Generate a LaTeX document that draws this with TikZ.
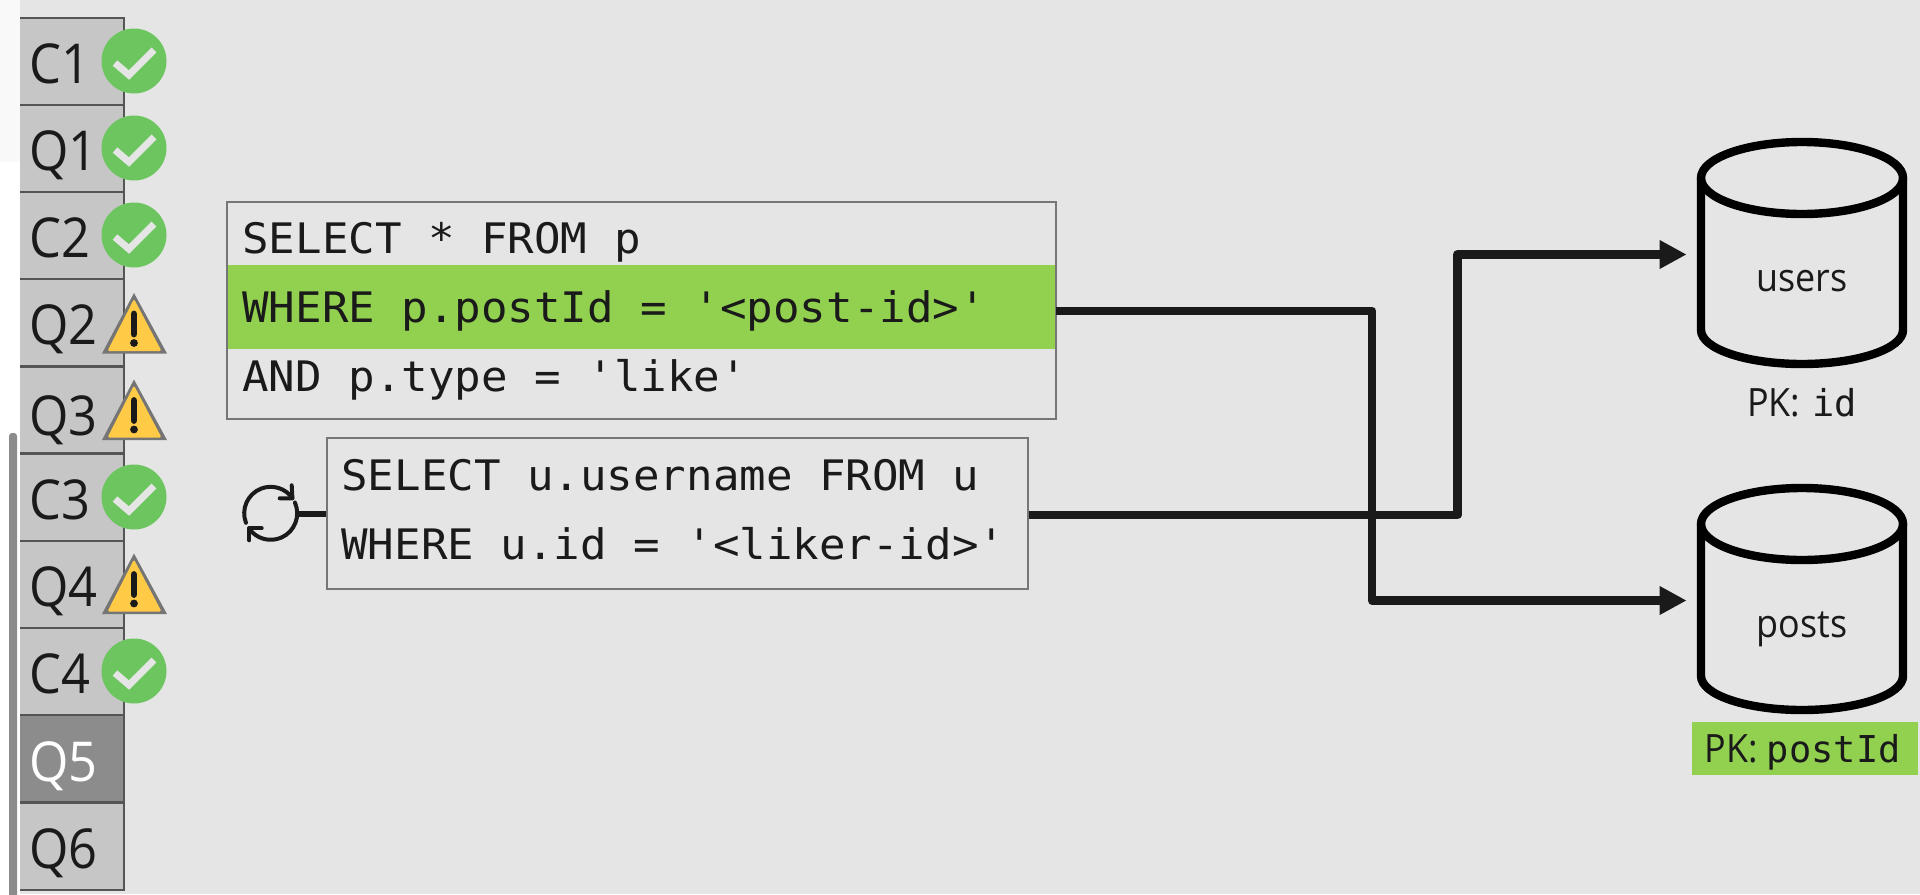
\documentclass[tikz,border=0pt]{standalone}
\usepackage{fontspec}
\usetikzlibrary{arrows.meta,calc}
\newfontfamily\uifont[FakeStretch=0.92]{Open Sans}
\newfontfamily\codefont[FakeStretch=1.05]{DejaVu Sans Mono}
\newfontfamily\pkfont{DejaVu Sans Mono}
\definecolor{bgc}{HTML}{E5E5E5}
\definecolor{txt}{HTML}{1A1A1A}
\definecolor{hl}{HTML}{92D050}
\definecolor{okc}{HTML}{6CC55E}
\definecolor{warnc}{HTML}{FFCA45}
\definecolor{warnb}{HTML}{757575}
\definecolor{rowc}{HTML}{C6C6C6}
\definecolor{rowb}{HTML}{555555}
\definecolor{rowdark}{HTML}{8C8C8C}
\definecolor{boxb}{HTML}{767676}
\tikzset{
  x=0.5pt,y=-0.5pt,
  rowbox/.style={draw=rowb,line width=1.2pt,fill=rowc,inner sep=0pt,minimum width=104.9*0.5pt,minimum height=87*0.5pt,anchor=north west},
  rowdk/.style={rowbox,fill=rowdark},
  rowlab/.style={inner sep=0pt,anchor=base west,text=txt,font=\uifont\fontsize{27.5pt}{30pt}\selectfont},
  sqlbox/.style={draw=boxb,line width=1pt,inner sep=0pt,anchor=north west},
  hlband/.style={fill=hl,inner sep=0pt,anchor=north west},
  code/.style={inner sep=0pt,anchor=base west,text=txt,font=\codefont\fontsize{21pt}{24pt}\selectfont},
  dbtext/.style={inner sep=0pt,anchor=base,text=txt,font=\uifont\fontsize{19.5pt}{22pt}\selectfont},
  conn/.style={draw=txt,line width=4.4pt,line join=round},
  connarrow/.style={conn,-{Triangle[length=13.5pt,width=13.5pt]}},
  dbline/.style={draw=black,line width=4.2pt},
  okdisc/.style={circle,fill=okc,inner sep=0pt,minimum size=65*0.5pt},
  checkmark/.style={draw=bgc,line width=3.5pt,miter limit=10},
  warnouter/.style={fill=warnb},
  warninner/.style={fill=warnc,rounded corners=0.8pt},
  warnbar/.style={draw=txt,line width=3.4pt,line cap=round},
  loopline/.style={draw=txt,line width=2pt,line cap=round,line join=round},
}
\newcommand{\okmark}[2]{%
  \node[okdisc] (#1) at (134,#2) {};
  \draw[checkmark] ($(#1.center)+(-19,2)$) -- ($(#1.center)+(-5,14)$) -- ($(#1.center)+(20,-11)$);
}
\newcommand{\warnmark}[2]{%
  \begin{scope}[shift={(0,#2)}]
    \fill[warnouter] (134,0) -- (167,60.5) -- (102,60.5) -- cycle;
    \fill[warninner] (134,6) -- (161.5,58) -- (107.5,58) -- cycle;
    \draw[warnbar] (134,21) -- (134,41);
    \fill[txt] (134,50) circle (3.9);
  \end{scope}
}
\newcommand{\dbshape}[3]{% name, top ellipse centre y, lower straight end y
  \draw[dbline] (1802,#2) ellipse [x radius=101,y radius=36];
  \draw[dbline] (1701,#2) -- (1701,#3) arc[start angle=180,end angle=0,x radius=101,y radius=34] -- (1903,#2);
}
\begin{document}
\begin{tikzpicture}
\useasboundingbox (0,0) rectangle (1920,894);
\fill[bgc] (0,0) rectangle (1920,894);

% side rows
\node[rowbox] (r1) at (17.8,16.8) {};
\node[rowbox] (r2) at (17.8,103.8) {};
\node[rowbox] (r3) at (17.8,190.8) {};
\node[rowbox] (r4) at (17.8,277.8) {};
\node[rowbox] (r5) at (17.8,365.3) {};
\node[rowbox] (r6) at (17.8,452.8) {};
\node[rowbox] (r7) at (17.8,539.8) {};
\node[rowbox] (r8) at (17.8,626.8) {};
\node[rowdk] (r9) at (17.8,713.8) {};
\node[rowbox] (r10) at (17.8,801.8) {};
\node[rowlab] at (29,83) {C1};
\node[rowlab] at (29,170) {Q1};
\node[rowlab] at (29,257) {C2};
\node[rowlab] at (29,344) {Q2};
\node[rowlab] at (29,435) {Q3};
\node[rowlab] at (29,519) {C3};
\node[rowlab] at (29,606) {Q4};
\node[rowlab] at (29,693) {C4};
\node[rowlab,text=white] at (29,781) {Q5};
\node[rowlab] at (29,868) {Q6};

% page strip to the left of the rows
\fill[white] (0,0) rectangle (20,894);
\fill[black!2.5] (0,0) rectangle (20,162);
\fill[bgc] (20,0) rectangle (24,16.8);
\fill[rowdark,rounded corners=1.5pt] (9,433) rectangle (17,900);

\okmark{ok1}{61}
\okmark{ok2}{148}
\okmark{ok3}{235}
\okmark{ok4}{497}
\okmark{ok5}{671}
\warnmark{w1}{293}
\warnmark{w2}{379.5}
\warnmark{w3}{553.5}

% SQL box 1
\node[sqlbox,minimum width=829*0.5pt,minimum height=217*0.5pt] (q1) at (226,200.5) {};
\node[hlband,minimum width=827*0.5pt,minimum height=84*0.5pt] (q1hl) at (228,265) {};
\node[code] (l1) at (242,253) {SELECT * FROM p};
\node[code] (l2) at (242,322.5) {WHERE p.postId = '<post-id>'};
\node[code] (l3) at (242,391) {AND p.type = 'like'};

% SQL box 2
\node[sqlbox,minimum width=701*0.5pt,minimum height=151*0.5pt] (q2) at (326,437) {};
\node[code] (l4) at (341,490.5) {SELECT u.username FROM u};
\node[code] (l5) at (341,559) {WHERE u.id = '<liker-id>'};

% loop icon
\coordinate (loopc) at (270.7,513.3);
\draw[loopline] ($(loopc)+(159:26.5)$) arc[start angle=159,end angle=325,radius=26.5];
\draw[loopline] ($(loopc)+(21,-28)$) -- ($(loopc)+(21.7,-15)$) -- ($(loopc)+(9,-15)$);
\draw[loopline] ($(loopc)+(-24:26.5)$) arc[start angle=-24,end angle=145,radius=26.5];
\draw[loopline] ($(loopc)+(-21.3,27)$) -- ($(loopc)+(-21.3,15)$) -- ($(loopc)+(-9,15)$);
\coordinate (loopeast) at (298,514);

% databases
\dbshape{users}{178}{330}
\dbshape{posts}{524}{676}
\node[inner sep=0pt,minimum width=230*0.5pt,minimum height=10*0.5pt] (users) at (1802,254.5) {};
\node[inner sep=0pt,minimum width=230*0.5pt,minimum height=10*0.5pt] (posts) at (1802,600.5) {};
\node[dbtext] (userslabel) at (1802,291.5) {users};
\node[dbtext] (postslabel) at (1802,637) {posts};
\node[dbtext] (pk1) at (1802,416) {PK:\hspace{1.5pt} {\pkfont\fontsize{18.5pt}{22pt}\selectfont id}};
\node[fill=hl,inner sep=0pt,minimum width=226*0.5pt,minimum height=53*0.5pt,anchor=north west] (pk2bg) at (1692,722) {};
\node[dbtext] (pk2) at (1802.5,762.5) {PK: {\pkfont\fontsize{18.5pt}{22pt}\selectfont postId}};

% connectors
\coordinate (busA) at (1372,0);
\coordinate (busB) at (1457.5,0);
\coordinate (q1out) at ($(q1hl.east)+(0,3.5)$);
\coordinate (q2out) at ($(q2.east)+(0,1.5)$);
\draw[connarrow] (q1out) -- (q1out -| busA) |- (posts.west);
\draw[connarrow] (q2out) -- (q2out -| busB) |- (users.west);
\draw[conn,line width=3pt] (loopeast) -- (loopeast -| q2.west);
\end{tikzpicture}
\end{document}
